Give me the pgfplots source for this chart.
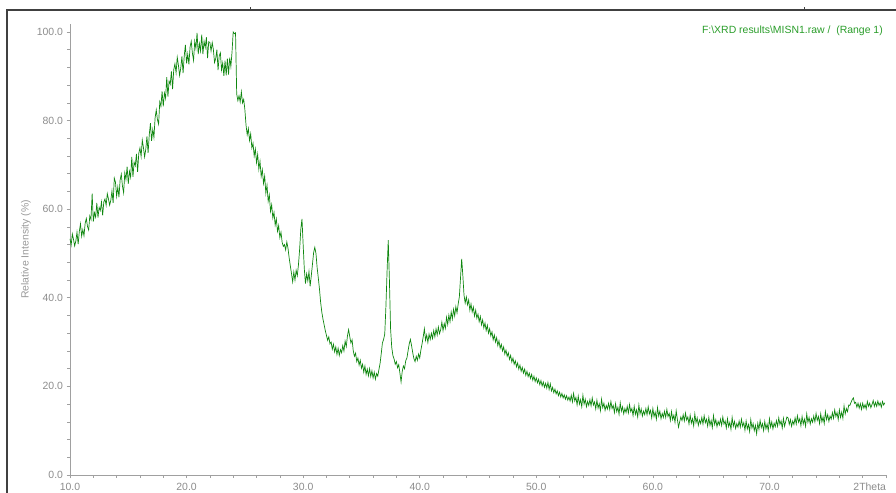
\documentclass[border=0pt]{standalone}
\usepackage{fontspec}
\setmainfont{Liberation Sans}
\usepackage{pgfplots}
\pgfplotsset{compat=1.18}
\definecolor{axgray}{HTML}{A0A0A0}
\definecolor{lblgray}{HTML}{8C8C8C}
\definecolor{ylblgray}{HTML}{9A9A9A}
\definecolor{linegreen}{HTML}{0F870F}
\definecolor{titlegreen}{HTML}{2A9D2A}
\begin{document}
\begin{tikzpicture}[x=1bp,y=1bp]
\useasboundingbox (0,0) rectangle (896,493);
\draw[line width=1.4bp, black!75] (7,0) -- (7,483) -- (896,483);
\draw[line width=0.8bp, black!75] (250,483) -- (250,486);
\draw[line width=0.8bp, black!75] (804,483) -- (804,486);
\begin{axis}[
  at={(70bp,18bp)}, anchor=south west,
  scale only axis, width=816bp, height=451bp,
  xmin=10, xmax=80, ymin=0, ymax=101.8,
  axis x line=bottom, axis y line=left,
  axis line style={axgray, line width=0.9bp, -},
  xtick={10,20,...,80}, ytick={0,20,...,100},
  xticklabels={10.0,20.0,30.0,40.0,50.0,60.0,70.0,{\makebox[0pt][r]{2Theta}}},
  yticklabel={\pgfmathprintnumber[fixed,fixed zerofill,precision=1,assume math mode=true]{\tick}},
  minor x tick num=4, minor y tick num=4,
  tick align=outside, major tick length=3.5bp, minor tick length=3bp,
  tick style={axgray, line width=0.6bp},
  xticklabel style={font=\fontsize{10.5}{12}\selectfont, text=lblgray, yshift=-1bp},
  yticklabel style={font=\fontsize{10.5}{12}\selectfont, text=lblgray},
  ylabel={Relative Intensity (\%)},
  ylabel style={font=\fontsize{10.5}{12}\selectfont, text=ylblgray, at={(axis description cs:-0.054,0.5)}, anchor=center},
  clip=false,
]
\addplot[linegreen, line width=0.7bp] table {
x y
10.0 53.3
10.1 51.9
10.2 54.4
10.3 53.2
10.4 51.7
10.5 52.8
10.6 54.8
10.7 52.1
10.8 55.0
10.9 56.7
11.0 53.9
11.1 55.4
11.2 54.0
11.3 56.8
11.4 57.9
11.5 56.1
11.6 55.3
11.7 58.5
11.8 57.7
11.9 63.5
12.0 57.2
12.1 59.2
12.2 58.2
12.3 61.4
12.4 58.1
12.5 60.4
12.6 59.7
12.7 61.6
12.8 58.6
12.9 61.6
13.0 62.3
13.1 60.9
13.2 63.5
13.3 62.3
13.4 60.9
13.5 62.0
13.6 64.1
13.7 61.4
13.8 67.0
13.9 66.1
14.0 62.9
14.1 65.0
14.2 62.7
14.3 66.6
14.4 67.9
14.5 65.2
14.6 63.7
14.7 68.2
14.8 66.7
14.9 69.6
15.0 65.7
15.1 68.5
15.2 67.2
15.3 71.8
15.4 67.3
15.5 70.6
15.6 69.8
15.7 72.5
15.8 68.4
15.9 72.6
16.0 73.8
16.1 71.9
16.2 75.6
16.3 73.9
16.4 71.8
16.5 73.5
16.6 76.4
16.7 72.7
16.8 76.8
16.9 79.4
17.0 75.4
17.1 78.0
17.2 76.2
17.3 80.6
17.4 82.4
17.5 80.2
17.6 79.2
17.7 84.2
17.8 83.2
17.9 86.6
18.0 83.2
18.1 86.2
18.2 85.0
18.3 89.8
18.4 85.4
18.5 88.9
18.6 88.2
18.7 91.1
18.8 87.1
18.9 91.5
19.0 92.8
19.1 90.8
19.2 94.3
19.3 92.5
19.4 90.2
19.5 91.8
19.6 94.5
19.7 90.7
19.8 94.6
19.9 97.1
20.0 92.9
20.1 95.0
20.2 92.7
20.3 96.6
20.4 97.9
20.5 95.2
20.6 93.6
20.7 97.9
20.8 96.3
20.9 99.8
21.0 95.0
21.1 97.4
21.2 95.7
21.3 99.4
21.4 95.0
21.5 97.9
21.6 96.5
21.7 98.8
21.8 94.1
21.9 97.8
22.0 97.6
22.1 95.7
22.2 97.6
22.3 96.0
22.4 93.1
22.5 94.0
22.6 96.0
22.7 91.4
22.8 94.6
22.9 95.3
23.0 91.4
23.1 93.0
23.2 90.1
23.3 93.5
23.4 90.2
23.5 94.0
23.6 90.4
23.7 94.2
23.8 92.2
23.9 95.5
24.0 100.0
24.1 99.6
24.2 99.8
24.3 86.0
24.4 84.5
24.5 85.6
24.6 84.2
24.7 86.5
24.8 84.0
24.9 84.8
25.0 82.5
25.1 79.0
25.2 76.8
25.3 78.2
25.4 75.5
25.5 77.0
25.6 73.8
25.7 74.9
25.8 72.0
25.9 73.6
26.0 70.5
26.1 72.4
26.2 69.0
26.3 70.8
26.4 67.4
26.5 68.9
26.6 65.8
26.7 67.5
26.8 63.6
26.9 65.4
27.0 61.8
27.1 63.2
27.2 59.5
27.3 61.0
27.4 58.0
27.5 59.3
27.6 56.4
27.7 57.8
27.8 55.0
27.9 56.3
28.0 53.6
28.1 54.8
28.2 52.5
28.3 51.6
28.4 52.0
28.5 50.8
28.6 52.6
28.7 51.2
28.8 49.0
28.9 47.2
29.0 45.5
29.1 43.6
29.2 45.8
29.3 44.0
29.4 46.2
29.5 45.0
29.6 47.5
29.7 51.0
29.8 55.5
29.9 57.8
30.0 52.0
30.1 46.5
30.2 43.2
30.3 45.4
30.4 43.8
30.5 45.9
30.6 42.6
30.7 45.0
30.8 47.6
30.9 50.2
31.0 51.4
31.1 50.0
31.2 46.8
31.3 44.5
31.4 42.0
31.5 39.0
31.6 36.8
31.7 35.2
31.8 33.9
31.9 32.6
32.0 31.5
32.1 30.4
32.2 31.2
32.3 29.6
32.4 30.0
32.5 28.4
32.6 29.5
32.7 27.8
32.8 28.9
32.9 27.2
33.0 28.6
33.1 27.0
33.2 28.3
33.3 27.6
33.4 29.2
33.5 28.0
33.6 30.2
33.7 29.0
33.8 31.4
33.9 32.8
34.0 31.2
34.1 29.8
34.2 30.5
34.3 28.0
34.4 26.8
34.5 27.5
34.6 25.6
34.7 26.4
34.8 24.8
34.9 25.9
35.0 24.1
35.1 25.0
35.2 23.2
35.3 24.6
35.4 22.7
35.5 23.9
35.6 22.4
35.7 24.0
35.8 22.2
35.9 23.5
36.0 21.9
36.1 23.2
36.2 21.6
36.3 22.9
36.4 22.3
36.5 23.8
36.6 25.2
36.7 27.4
36.8 29.8
36.9 30.6
37.0 31.8
37.1 38.0
37.2 46.0
37.3 53.0
37.4 44.0
37.5 33.0
37.6 28.8
37.7 27.0
37.8 26.2
37.9 25.0
38.0 25.6
38.1 24.2
38.2 24.9
38.3 23.0
38.4 21.0
38.5 23.4
38.6 24.6
38.7 24.0
38.8 25.8
38.9 26.4
39.0 28.0
39.1 29.6
39.2 30.6
39.3 29.2
39.4 27.6
39.5 26.3
39.6 25.6
39.7 26.8
39.8 25.9
39.9 27.3
40.0 26.4
40.1 28.2
40.2 29.6
40.3 31.2
40.4 33.0
40.5 30.4
40.6 31.6
40.7 29.9
40.8 31.8
40.9 30.6
41.0 32.0
41.1 30.8
41.2 32.6
41.3 31.2
41.4 33.0
41.5 31.6
41.6 33.4
41.7 31.9
41.8 32.8
41.9 34.5
42.0 32.6
42.1 34.2
42.2 33.1
42.3 35.6
42.4 34.0
42.5 36.1
42.6 34.6
42.7 36.8
42.8 35.2
42.9 37.4
43.0 35.9
43.1 38.0
43.2 36.6
43.3 38.6
43.4 40.2
43.5 44.5
43.6 48.8
43.7 45.0
43.8 40.6
43.9 38.8
44.0 40.2
44.1 38.4
44.2 39.5
44.3 37.2
44.4 38.6
44.5 36.8
44.6 37.9
44.7 35.9
44.8 37.2
44.9 35.4
45.0 36.3
45.1 34.6
45.2 35.8
45.3 33.9
45.4 35.0
45.5 33.2
45.6 34.3
45.7 32.6
45.8 33.8
45.9 32.0
46.0 33.0
46.1 31.4
46.2 32.3
46.3 30.5
46.4 31.6
46.5 30.0
46.6 31.0
46.7 29.2
46.8 30.3
46.9 28.6
47.0 29.5
47.1 28.0
47.2 28.9
47.3 27.3
47.4 28.2
47.5 26.8
47.6 27.6
47.7 26.1
47.8 27.0
47.9 25.5
48.0 26.4
48.1 25.0
48.2 25.8
48.3 24.4
48.4 25.3
48.5 23.9
48.6 24.8
48.7 23.4
48.8 24.3
48.9 23.0
49.0 23.9
49.1 22.5
49.2 23.4
49.3 22.2
49.4 23.0
49.5 21.8
49.6 22.7
49.7 21.4
49.8 22.3
49.9 21.1
50.0 21.9
50.1 20.8
50.2 21.6
50.3 20.4
50.4 21.3
50.5 20.1
50.6 21.0
50.7 19.8
50.8 20.7
50.9 19.6
51.0 20.9
51.1 19.3
51.2 20.6
51.3 19.0
51.4 19.8
51.5 18.6
51.6 19.4
51.7 18.3
51.8 19.0
51.9 17.9
52.0 18.7
52.1 17.6
52.2 18.4
52.3 17.4
52.4 18.1
52.5 17.1
52.6 17.9
52.7 16.9
52.8 17.6
52.9 16.7
53.0 18.0
53.1 16.5
53.2 18.4
53.3 16.7
53.4 17.5
53.5 15.8
53.6 17.8
53.7 16.0
53.8 17.0
53.9 15.4
54.0 18.0
54.1 16.0
54.2 17.1
54.3 15.4
54.4 16.6
54.5 15.7
54.6 17.0
54.7 15.6
54.8 17.4
54.9 15.8
55.0 16.5
55.1 14.9
55.2 16.9
55.3 15.1
55.4 16.1
55.5 14.5
55.6 17.1
55.7 15.2
55.8 16.2
55.9 14.6
56.0 15.7
56.1 14.9
56.2 16.2
56.3 14.8
56.4 16.6
56.5 15.0
56.6 15.7
56.7 14.1
56.8 16.1
56.9 14.3
57.0 15.3
57.1 13.7
57.2 16.3
57.3 14.4
57.4 15.4
57.5 13.8
57.6 15.0
57.7 14.1
57.8 15.5
57.9 14.0
58.0 15.9
58.1 14.3
58.2 15.0
58.3 13.4
58.4 15.5
58.5 13.7
58.6 14.7
58.7 13.1
58.8 15.8
58.9 13.8
59.0 14.9
59.1 13.3
59.2 14.4
59.3 13.6
59.4 15.0
59.5 13.6
59.6 15.4
59.7 13.8
59.8 14.6
59.9 12.9
60.0 15.0
60.1 13.2
60.2 14.2
60.3 12.6
60.4 15.2
60.5 13.3
60.6 14.4
60.7 12.7
60.8 13.9
60.9 13.0
61.0 14.4
61.1 13.0
61.2 14.8
61.3 13.2
61.4 13.9
61.5 12.3
61.6 14.3
61.7 12.5
61.8 13.5
61.9 11.9
62.0 14.5
62.1 12.6
62.2 10.8
62.3 12.0
62.4 13.1
62.5 12.3
62.6 13.6
62.7 12.2
62.8 14.0
62.9 12.4
63.0 13.1
63.1 11.5
63.2 13.5
63.3 11.7
63.4 12.7
63.5 11.1
63.6 13.8
63.7 11.8
63.8 12.9
63.9 11.2
64.0 12.4
64.1 11.6
64.2 13.0
64.3 11.5
64.4 13.4
64.5 11.8
64.6 12.6
64.7 11.0
64.8 13.0
64.9 11.2
65.0 12.3
65.1 10.7
65.2 13.4
65.3 11.4
65.4 12.5
65.5 10.9
65.6 12.1
65.7 11.3
65.8 12.6
65.9 11.2
66.0 13.1
66.1 11.5
66.2 12.2
66.3 10.6
66.4 12.7
66.5 10.9
66.6 11.9
66.7 10.3
66.8 13.0
66.9 11.0
67.0 12.1
67.1 10.5
67.2 11.6
67.3 10.8
67.4 12.2
67.5 10.8
67.6 12.6
67.7 11.0
67.8 11.8
67.9 10.1
68.0 12.2
68.1 10.4
68.2 11.4
68.3 9.8
68.4 12.5
68.5 10.6
68.6 11.6
68.7 10.0
68.8 11.2
68.9 9.3
69.0 11.7
69.1 10.3
69.2 12.3
69.3 10.7
69.4 11.6
69.5 10.0
69.6 12.1
69.7 10.4
69.8 11.5
69.9 10.0
70.0 12.7
70.1 10.8
70.2 12.0
70.3 10.4
70.4 11.7
70.5 10.9
70.6 12.3
70.7 11.0
70.8 12.9
70.9 11.4
71.0 12.2
71.1 10.6
71.2 12.8
71.3 11.0
71.4 12.1
71.5 13.1
71.6 12.9
71.7 11.4
71.8 12.5
71.9 11.0
72.0 12.2
72.1 11.4
72.2 12.9
72.3 11.5
72.4 13.4
72.5 11.9
72.6 12.7
72.7 11.1
72.8 13.2
72.9 11.5
73.0 12.6
73.1 11.0
73.2 13.8
73.3 11.9
73.4 13.0
73.5 11.5
73.6 12.7
73.7 11.9
73.8 13.3
73.9 12.0
74.0 13.9
74.1 12.3
74.2 13.2
74.3 11.6
74.4 13.8
74.5 12.0
74.6 13.1
74.7 11.6
74.8 14.3
74.9 12.5
75.0 13.6
75.1 12.1
75.2 13.3
75.3 12.6
75.4 14.1
75.5 12.8
75.6 14.7
75.7 13.2
75.8 14.1
75.9 12.5
76.0 14.7
76.1 13.0
76.2 14.2
76.3 12.8
76.4 15.6
76.5 13.8
76.6 15.0
76.7 14.3
76.8 15.8
76.9 15.7
77.0 16.4
77.1 17.0
77.2 17.4
77.3 16.2
77.4 16.4
77.5 15.3
77.6 16.2
77.7 15.1
77.8 16.1
77.9 14.8
78.0 16.2
78.1 15.1
78.2 15.9
78.3 14.9
78.4 16.6
78.5 15.5
78.6 16.2
78.7 15.2
78.8 15.9
78.9 16.8
79.0 15.5
79.1 16.4
79.2 15.5
79.3 16.7
79.4 15.7
79.5 16.3
79.6 15.3
79.7 16.6
79.8 15.8
79.9 16.3
};
\end{axis}
\node[anchor=east, font=\fontsize{10.5}{12}\selectfont, text=titlegreen, inner sep=0pt] at (883,462) {F:\textbackslash XRD results\textbackslash MISN1.raw /\ \ (Range 1)};
\end{tikzpicture}
\end{document}
